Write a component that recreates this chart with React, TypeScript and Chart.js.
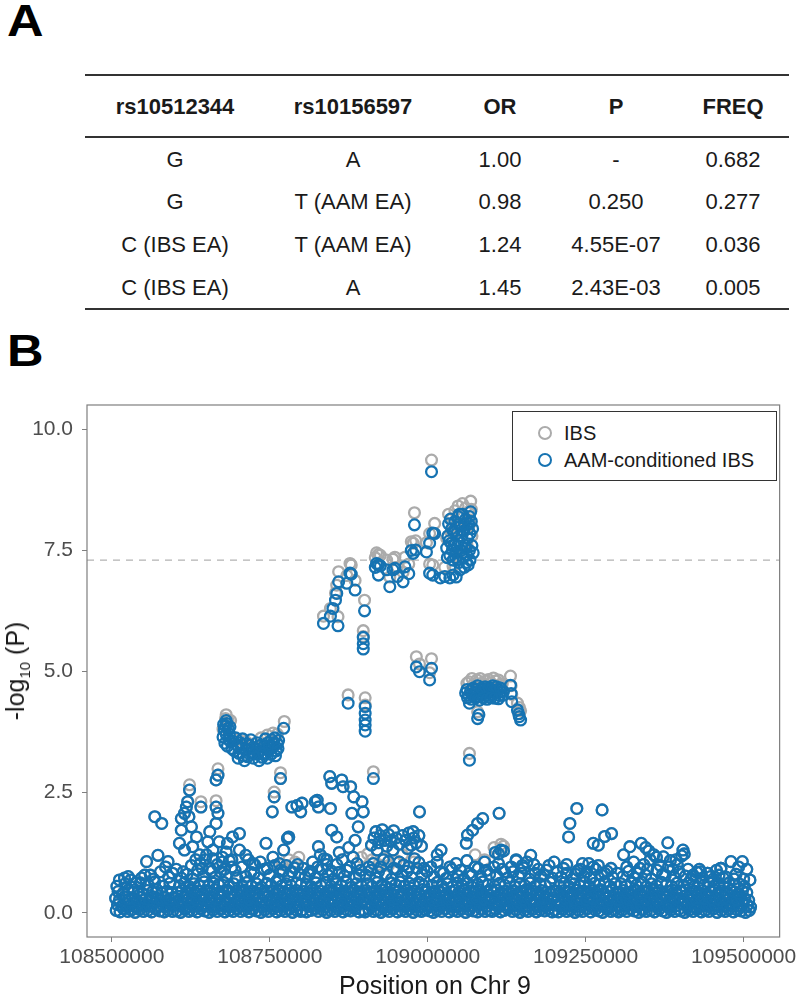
import React, { useEffect, useRef } from "react";
import { Chart, registerables } from "chart.js";
Chart.register(...registerables);

// ---------- Table (panel A) ----------
const tableHeader = ["rs10512344", "rs10156597", "OR", "P", "FREQ"];
const tableRows = [
  ["G", "A", "1.00", "-", "0.682"],
  ["G", "T (AAM EA)", "0.98", "0.250", "0.277"],
  ["C (IBS EA)", "T (AAM EA)", "1.24", "4.55E-07", "0.036"],
  ["C (IBS EA)", "A", "1.45", "2.43E-03", "0.005"],
];

// ---------- Scatter (panel B) ----------
// positions stored as kb offset from START_KB, pairs [kbOffset, -log10P, ...]
const START_KB = 108500;
const X_TICKS = [108500000, 108750000, 109000000, 109250000, 109500000];
const Y_TICKS = [0, 2.5, 5, 7.5, 10];
const THRESHOLD = 7.3;

const band1 = [7,.05,13,.02,19,.08,25,.03,31,.06,37,.01,44,.07,50,.03,57,.05,63,.02,70,.08,76,.04,83,.02,89,.06,96,.03,
  9,.17,16,.14,22,.19,29,.15,35,.2,41,.13,48,.18,54,.16,60,.14,67,.2,73,.15,80,.18,86,.13,93,.19,99,.16,
  6,.3,12,.27,20,.33,27,.28,33,.31,40,.26,46,.32,53,.29,59,.27,65,.33,72,.3,78,.26,85,.31,91,.28,98,.32,
  10,.44,18,.41,26,.47,34,.42,42,.45,49,.4,56,.46,64,.43,71,.48,79,.41,87,.45,95,.42,
  8,.55,21,.6,32,.53,45,.62,58,.57,68,.64,81,.55,92,.61,
  26,.75,30,.68,47,.72,61,.78,77,.85,85,.95,96,.82];
const band2 = [103,.04,109,.01,116,.07,122,.03,128,.05,135,.02,141,.08,147,.04,154,.01,160,.06,167,.03,173,.07,179,.02,186,.05,192,.03,198,.08,
  106,.16,112,.2,119,.13,125,.18,132,.15,138,.19,144,.14,151,.17,157,.2,163,.13,170,.18,176,.15,183,.19,189,.14,195,.17,
  101,.29,108,.26,114,.32,121,.28,127,.31,134,.27,140,.33,146,.29,153,.26,159,.31,166,.28,172,.33,179,.27,185,.3,192,.32,199,.26,
  104,.42,111,.46,118,.41,124,.47,131,.43,137,.45,144,.4,150,.46,157,.42,163,.48,170,.41,176,.44,183,.47,190,.42,197,.45,
  107,.56,115,.62,123,.54,130,.6,138,.57,146,.64,153,.55,161,.61,169,.58,177,.63,185,.54,193,.6,
  110,.72,119,.8,128,.7,136,.88,145,.76,155,.92,164,.74,172,.85,181,.78,190,.95,198,.72,140,1.02,160,1.12,175,1.05];
const band3 = [204,.03,210,.06,217,.02,223,.07,229,.04,236,.01,242,.06,248,.03,255,.08,261,.02,267,.05,274,.03,280,.07,286,.01,293,.05,299,.03,
  201,.15,207,.19,214,.14,220,.18,226,.16,233,.2,239,.13,245,.17,252,.15,258,.19,264,.14,271,.18,277,.16,283,.2,290,.13,296,.17,
  205,.28,211,.32,218,.27,224,.31,231,.29,237,.26,243,.33,250,.28,256,.3,262,.27,269,.32,275,.29,281,.26,288,.31,294,.28,
  203,.43,209,.47,216,.41,222,.45,228,.42,235,.48,241,.4,247,.44,254,.46,260,.41,266,.45,273,.43,279,.47,286,.42,292,.46,298,.4,
  206,.57,214,.63,221,.55,229,.6,237,.53,245,.61,252,.57,260,.64,268,.55,276,.6,284,.56,292,.62,299,.58,
  212,.75,220,.84,232,.72,241,.9,250,.78,263,.7,271,.86,280,.76,289,.93,297,.8,226,1.0,258,.98];
const band4 = [302,.06,308,.02,315,.05,321,.08,327,.03,334,.06,340,.01,346,.05,353,.03,359,.07,366,.02,372,.06,378,.04,385,.08,391,.02,397,.05,
  305,.17,311,.14,318,.2,324,.15,330,.18,337,.13,343,.19,349,.16,356,.14,362,.2,368,.15,375,.18,381,.13,388,.17,394,.2,
  301,.3,307,.27,314,.33,320,.28,327,.31,333,.26,339,.32,346,.29,352,.27,358,.33,365,.28,371,.31,378,.26,384,.32,391,.29,397,.27,
  304,.44,311,.41,317,.47,324,.42,330,.45,337,.4,343,.46,350,.43,356,.48,363,.41,369,.45,376,.42,382,.47,389,.44,395,.4,
  308,.58,316,.54,323,.62,331,.56,339,.63,347,.55,355,.6,363,.57,371,.64,379,.53,387,.6,395,.56,
  306,.74,314,.86,322,.72,333,.9,342,.78,351,.7,360,.84,368,.76,377,.95,386,.73,394,.88,318,1.05,340,1.0,365,1.1,388,1.02];
const band5 = [401,.02,407,.07,414,.03,420,.05,426,.01,433,.06,439,.03,445,.08,452,.02,458,.05,465,.03,471,.07,477,.01,484,.05,490,.03,496,.06,
  404,.19,410,.14,417,.17,423,.2,429,.15,436,.13,442,.18,448,.16,455,.2,461,.14,468,.17,474,.15,480,.19,487,.13,493,.18,499,.15,
  400,.27,406,.31,413,.28,419,.33,425,.26,432,.3,438,.32,444,.27,451,.29,457,.33,464,.26,470,.31,476,.28,483,.32,489,.27,496,.3,
  403,.46,409,.42,416,.45,422,.4,428,.47,435,.43,441,.41,447,.46,454,.44,460,.4,467,.47,473,.42,479,.45,486,.41,492,.48,498,.43,
  405,.6,412,.55,420,.63,427,.57,434,.54,442,.62,449,.58,456,.64,463,.55,471,.61,478,.57,486,.63,494,.56,
  402,.78,410,.88,418,.72,426,.95,434,.8,443,.7,451,.9,459,.76,467,.86,475,.73,483,.92,491,.79,499,.86,414,1.02,438,1.06,462,.99,486,1.04];
const band6 = [503,.04,509,.01,515,.06,522,.03,528,.08,534,.02,541,.05,547,.03,553,.07,560,.01,566,.06,572,.04,579,.02,585,.07,591,.03,598,.05,
  506,.15,512,.19,519,.14,525,.18,531,.16,538,.2,544,.13,550,.17,557,.15,563,.19,569,.14,576,.18,582,.16,588,.2,595,.14,
  501,.32,508,.27,514,.3,521,.26,527,.33,533,.28,540,.31,546,.27,552,.32,559,.29,565,.26,571,.31,578,.28,584,.33,590,.27,597,.3,
  505,.41,511,.45,518,.43,524,.48,530,.4,537,.44,543,.46,549,.42,556,.47,562,.41,568,.45,575,.43,581,.48,587,.4,594,.44,600,.46,
  507,.57,515,.63,523,.55,531,.6,539,.54,547,.62,555,.56,563,.61,571,.53,579,.59,587,.64,595,.57,
  510,.74,520,.85,529,.71,538,.9,548,.77,557,.7,566,.82,575,.95,584,.75,593,.88,545,1.02,590,1.05];
const band7 = [602,.03,608,.07,615,.02,621,.05,627,.08,634,.03,640,.06,646,.01,653,.05,659,.03,666,.07,672,.02,678,.06,685,.04,691,.08,697,.02,
  605,.18,611,.14,617,.2,624,.16,630,.13,637,.19,643,.15,649,.18,656,.14,662,.2,668,.16,675,.13,681,.19,688,.15,694,.17,
  601,.28,607,.33,614,.27,620,.3,626,.26,633,.32,639,.29,645,.33,652,.27,658,.31,664,.28,671,.26,677,.32,684,.29,690,.31,696,.27,
  604,.43,610,.47,617,.41,623,.45,629,.42,636,.46,642,.4,648,.44,655,.47,661,.42,667,.45,674,.41,680,.46,687,.43,693,.4,699,.45,
  606,.55,614,.61,622,.57,630,.63,638,.54,646,.6,654,.56,662,.62,670,.55,678,.6,686,.57,694,.63,
  609,.78,618,.9,626,.72,635,.85,644,.75,652,.93,661,.7,670,.82,679,.76,688,.88,697,.72,612,1.02,640,1.08,668,1.0];
const band8 = [701,.05,707,.02,714,.07,720,.03,726,.06,733,.01,739,.05,745,.03,752,.08,758,.02,765,.06,771,.04,777,.01,784,.07,790,.03,796,.05,
  704,.16,710,.2,717,.14,723,.18,729,.15,736,.19,742,.13,748,.17,755,.2,761,.14,767,.18,774,.15,780,.19,787,.13,793,.17,799,.15,
  700,.31,706,.27,713,.33,719,.28,725,.3,732,.26,738,.32,744,.29,751,.27,757,.31,763,.28,770,.33,776,.27,783,.3,789,.26,795,.32,
  703,.45,709,.41,716,.46,722,.43,728,.4,735,.47,741,.42,747,.45,754,.41,760,.46,766,.43,773,.48,779,.41,786,.44,792,.47,798,.42,
  708,.56,716,.62,724,.54,732,.6,740,.57,748,.63,756,.55,764,.61,772,.58,780,.64,788,.55,796,.6,
  711,.74,720,.82,729,.7,738,.88,747,.76,757,.72,766,.9,775,.78,784,.86,793,.73,745,1.02,770,.98];
const band9 = [802,.02,808,.06,815,.03,821,.08,827,.04,834,.01,840,.06,846,.03,853,.05,859,.02,866,.07,872,.04,878,.01,885,.06,891,.03,897,.07,
  805,.14,811,.18,818,.16,824,.2,830,.13,837,.17,843,.19,849,.15,856,.18,862,.14,868,.2,875,.16,881,.13,888,.19,894,.15,
  801,.27,807,.32,814,.29,820,.26,826,.31,833,.28,839,.33,845,.27,852,.3,858,.32,864,.26,871,.29,877,.33,884,.28,890,.31,896,.26,
  804,.42,810,.46,817,.4,823,.44,829,.47,836,.41,842,.45,848,.43,855,.48,861,.42,867,.46,874,.4,880,.44,887,.47,893,.41,899,.45,
  806,.6,814,.55,822,.62,830,.57,838,.64,846,.54,854,.6,862,.56,870,.63,878,.58,886,.55,894,.61,
  809,.75,818,.86,827,.72,836,.92,845,.78,854,.7,863,.88,872,.8,881,.95,890,.74,898,.85,826,1.05,852,1.1,858,1.2,884,1.08];
const band10 = [901,.04,907,.01,914,.06,920,.03,926,.07,933,.02,939,.05,945,.03,952,.08,958,.01,965,.05,971,.03,977,.07,984,.02,990,.06,996,.04,1003,.01,1009,.05,
  904,.18,910,.15,917,.19,923,.13,929,.17,936,.2,942,.14,948,.18,955,.16,961,.13,967,.19,974,.15,980,.17,987,.2,993,.14,999,.18,1006,.16,1011,.12,
  900,.3,906,.27,913,.32,919,.28,925,.26,932,.31,938,.29,944,.33,951,.27,957,.3,963,.26,970,.32,976,.28,983,.31,989,.27,995,.33,1002,.29,1008,.26,
  903,.43,909,.47,916,.41,922,.45,928,.42,935,.46,941,.4,947,.44,954,.47,960,.42,966,.45,973,.41,979,.46,986,.43,992,.4,998,.45,1005,.42,
  905,.56,913,.62,921,.54,929,.6,937,.57,945,.63,953,.55,961,.6,969,.54,977,.62,985,.57,993,.6,1001,.55,
  908,.76,917,.7,926,.84,935,.72,943,.82,952,.7,961,.78,964,.92,972,.74,988,.8,992,.95];
const bandUpper = [12,.68,20,.72,38,.62,52,.78,66,.7,90,.74,102,.9,113,.85,126,.98,133,1.1,143,.92,150,1.2,158,.86,167,1.0,178,.9,
  186,1.08,195,.88,206,.95,216,1.1,225,.82,235,1.05,246,.92,255,1.15,267,.88,276,.98,285,.85,294,1.0,303,.92,312,.8,326,.95,
  336,1.12,348,.86,356,1.0,372,.88,382,1.15,392,.78,407,.95,422,.85,430,1.1,446,.92,455,1.05,470,.95,479,1.12,494,.92,505,.95,
  515,1.05,525,.82,535,.95,552,.88,562,1.08,570,.78,580,.92,598,.8,605,.95,622,.85,632,.95,648,.82,657,1.05,675,.9,684,.78,
  692,.98,705,.85,715,.92,734,.8,742,.9,752,.85,762,.95,780,.82,790,.92,800,.82,815,.95,832,.82,842,1.0,848,.9,868,.98,
  876,.78,888,.9,895,1.0,912,.9,920,.78,932,.85,948,.75,957,.88,968,.72,985,.7,1000,.7,1010,.68];

const midShared = [55,1.06,73,1.19,89,1.06,68,1.99,79,1.85,110,1.95,118,2.19,120,2.3,123,2.54,115,2.06,122,1.99,126,1.78,110,1.71,107,1.44,115,1.3,
  134,1.57,139,1.2,128,1.37,141,2.19,165,2.19,168,2.06,165,1.85,155,1.68,152,1.47,170,1.47,165,2.75,168,2.85,183,1.44,181,1.26,191,1.57,
  202,1.64,202,1.3,212,1.19,223,1.02,190,1.1,175,1.15,160,1.3,148,1.1,257,2.4,254,2.09,267,2.78,244,1.44,278,1.54,272,1.3,285,2.19,
  299,2.09,293,2.22,265,1.02,280,1.57,301,2.27,322,2.3,327,2.19,325,2.33,327,1.37,346,2.16,348,1.71,356,1.57,345,2.82,348,2.68,364,2.75,
  366,2.61,378,2.61,383,2.4,396,2.3,398,2.09,380,2.06,390,1.78,330,1.2,340,1.1,360,1.25,375,1.35,385,1.5,
  411,1.4,415,1.55,418,1.68,422,1.45,425,1.6,428,1.72,432,1.5,435,1.38,438,1.62,442,1.48,446,1.7,450,1.55,455,1.42,460,1.6,465,1.5,
  470,1.65,474,1.4,478,1.55,482,1.45,486,1.6,490,1.38,420,1.3,445,1.3,468,1.33,
  487,2.09,477,1.68,521,1.3,515,1.2,561,1.44,563,1.61,571,1.71,579,1.85,587,1.95,613,2.06,616,1.3,607,1.25,612,1.22,620,1.28,663,1.19,
  736,2.16,725,1.85,723,1.57,776,2.13,762,1.44,791,1.64,780,1.58,770,1.4,820,1.37,838,1.44,845,1.35,880,1.45,873,1.16,904,1.3,906,1.22,
  902,1.18,998,1.06,980,1.06,964,.92,943,.82,755,1.02,700,1.05,720,1.0,640,1.1,650,.98,810,1.2,850,1.28,862,1.15,893,1.1,930,.9,1005,.9];

const ibsExtra = [270,1.0,280,1.1,290,1.05,296,1.15,395,1.15,405,1.22,412,1.1,422,1.0,430,1.12,438,.98,450,1.08,460,1.2,478,1.05,
  165,2.32,168,2.98,141,2.3,267,2.9,414,2.92,257,2.5,123,2.65,575,1.2,590,1.1,605,1.35,620,1.38,616,1.42];

const aamPeak = [335,5.99,346,6.14,358,5.94,354,6.47,356,6.61,359,6.85,350,6.3,372,6.82,377,7.03,379,7.01,385,6.68,400,6.25,398,5.7,398,5.57,398,5.46,
  417,7.15,419,7.23,422,7.2,425,7.18,422,6.99,435,7.1,440,6.75,445,7.1,448,7.13,452,6.96,461,6.85,464,7.16,470,7.02,474,7.5,477,7.44,
  481,7.51,479,8.03,498,7.47,503,7.65,511,7.85,508,7.86,506,9.13,503,7.03,508,6.99,520,6.93,527,6.96,535,6.93,540,6.99,545,6.95,
  530,7.55,532,7.8,533,8.05,535,7.4,537,7.65,538,7.95,540,7.3,542,7.6,543,8.1,545,7.45,546,7.85,548,8.2,549,7.25,550,7.7,552,8.0,
  553,7.5,555,8.25,556,7.35,557,7.9,559,7.6,560,8.15,562,7.4,563,7.75,565,8.05,566,7.5,567,7.85,568,8.3,564,7.2,558,7.15,551,7.1,570,7.6,569,8.1,
  531,7.35,534,7.7,536,8.15,539,7.5,541,7.9,544,7.35,547,7.6,550,8.25,554,7.8,558,8.05,561,7.55,564,7.95,567,7.3,571,7.95,572,7.45,566,8.2,561,7.25,
  482,5.09,487,4.99,506,5.06,503,4.82,
  560,4.55,563,4.45,566,4.34,568,4.6,571,4.5,574,4.55,577,4.62,580,4.48,583,4.58,586,4.52,589,4.63,592,4.5,595,4.57,598,4.6,601,4.52,
  604,4.6,607,4.55,610,4.62,613,4.5,616,4.57,579,4.02,581,4.1,566,3.16,631,4.71,632,4.54,633,4.37,642,4.2,645,4.06,647,3.99,644,4.12,
  562,4.62,565,4.5,569,4.42,572,4.65,576,4.45,579,4.7,582,4.4,585,4.65,588,4.45,591,4.68,594,4.42,597,4.66,600,4.45,603,4.7,606,4.44,
  609,4.68,612,4.43,615,4.65,618,4.5,620,4.58,
  374,4.34,401,4.27,401,4.13,401,3.99,401,3.89,401,3.76,414,2.78,
  176,3.64,178,3.78,180,3.86,182,3.92,184,3.82,186,3.7,179,3.51,183,3.45,188,3.55,190,3.4,194,3.35,198,3.48,201,3.3,205,3.42,208,3.25,
  212,3.38,215,3.23,218,3.47,221,3.32,224,3.2,228,3.4,231,3.28,235,3.35,238,3.22,241,3.45,244,3.3,247,3.52,250,3.38,253,3.58,255,3.44,
  258,3.62,260,3.35,262,3.5,264,3.57,272,3.82,
  192,3.55,196,3.62,200,3.2,203,3.52,207,3.6,210,3.15,213,3.5,217,3.3,220,3.58,223,3.42,226,3.3,230,3.52,233,3.15,236,3.47,240,3.3,
  243,3.6,246,3.2,249,3.45,252,3.28,256,3.52,259,3.25,263,3.4,181,3.7,185,3.58,187,3.85,177,3.9,181,3.98];

const ibsPeak = [335,6.14,346,6.3,358,6.13,354,6.62,356,6.78,359,7.06,372,6.98,377,7.23,379,7.2,385,6.88,400,6.47,398,5.84,398,5.72,
  417,7.35,419,7.45,422,7.42,425,7.4,435,7.3,440,6.95,445,7.32,448,7.36,452,7.15,461,7.05,464,7.36,470,7.22,474,7.68,477,7.65,481,7.7,
  479,8.28,498,7.66,503,7.85,511,8.06,506,9.37,503,7.22,508,7.2,527,7.15,540,7.18,
  530,7.75,533,8.25,537,7.88,538,8.15,542,7.82,543,8.32,546,8.05,548,8.42,550,7.92,552,8.2,555,8.47,557,8.1,560,8.38,563,7.96,565,8.28,
  567,8.05,568,8.52,570,7.8,569,8.35,556,7.55,549,7.45,562,7.62,
  482,5.3,487,5.15,506,5.26,503,4.97,
  565,4.78,572,4.72,578,4.82,585,4.75,592,4.8,600,4.76,608,4.8,614,4.72,579,4.16,566,3.3,631,4.9,632,4.7,633,4.52,645,4.25,647,4.18,642,4.34,
  562,4.75,570,4.85,583,4.85,596,4.83,604,4.86,612,4.82,618,4.74,
  374,4.51,401,4.45,401,4.3,
  176,3.8,180,4.02,184,3.98,200,3.58,212,3.55,225,3.5,236,3.62,246,3.68,255,3.72,262,3.7,273,3.96,181,4.1,188,3.98];

const bands = [band1, band2, band3, band4, band5, band6, band7, band8, band9, band10, bandUpper];

function toPoints(pairs: number[]) {
  const out: { x: number; y: number }[] = [];
  for (let i = 0; i + 1 < pairs.length; i += 2) {
    out.push({ x: (START_KB + pairs[i]) * 1000, y: pairs[i + 1] });
  }
  return out;
}

const BLUE = "#1673b2";
const GRAY = "#ababab";
const FONT = "'Liberation Sans', Arial, Helvetica, sans-serif";

const panelPlugin = {
  id: "panelDecor",
  beforeDatasetsDraw(chart: any) {
    const { ctx, chartArea, scales } = chart;
    const y = scales.y.getPixelForValue(THRESHOLD);
    ctx.save();
    ctx.strokeStyle = "#b3b3b3";
    ctx.lineWidth = 1.3;
    ctx.setLineDash([7, 6]);
    ctx.beginPath();
    ctx.moveTo(chartArea.left, y);
    ctx.lineTo(chartArea.right, y);
    ctx.stroke();
    ctx.restore();
  },
  afterDraw(chart: any) {
    const { ctx, chartArea } = chart;
    ctx.save();
    ctx.strokeStyle = "#7f7f7f";
    ctx.lineWidth = 1.2;
    ctx.strokeRect(chartArea.left, chartArea.top, chartArea.right - chartArea.left, chartArea.bottom - chartArea.top);
    ctx.restore();
  },
};

function ScatterPanel() {
  const ref = useRef<HTMLCanvasElement | null>(null);
  useEffect(() => {
    if (!ref.current) return;
    const bandPairs = ([] as number[]).concat(...bands);
    const aamData = toPoints(bandPairs.concat(midShared, aamPeak));
    const ibsData = toPoints(bandPairs.concat(midShared, ibsExtra, ibsPeak));
    const chart = new Chart(ref.current, {
      type: "scatter",
      data: {
        datasets: [
          { label: "AAM-conditioned IBS", data: aamData, borderColor: BLUE, backgroundColor: "rgba(0,0,0,0)", pointRadius: 5.4, borderWidth: 2.3, pointStyle: "circle" },
          { label: "IBS", data: ibsData, borderColor: GRAY, backgroundColor: "rgba(0,0,0,0)", pointRadius: 5.4, borderWidth: 2.3, pointStyle: "circle" },
        ],
      },
      options: {
        responsive: false,
        animation: false,
        events: [],
        layout: { padding: { left: 0, right: 16, top: 25, bottom: 0 } },
        plugins: { legend: { display: false }, tooltip: { enabled: false } },
        scales: {
          x: {
            type: "linear",
            min: 108460700,
            max: 109557000,
            afterFit: (s: any) => { s.height = 63; },
            afterBuildTicks: (s: any) => { s.ticks = X_TICKS.map((v) => ({ value: v })); },
            ticks: { callback: (v: any) => String(v), font: { family: FONT, size: 21 }, color: "#4d4d4d", padding: 3, maxRotation: 0, autoSkip: false },
            grid: { drawOnChartArea: false, drawTicks: true, tickLength: 5, color: "#7f7f7f", tickColor: "#7f7f7f" },
            border: { display: false },
          },
          y: {
            type: "linear",
            min: -0.5,
            max: 10.51,
            afterFit: (s: any) => { s.width = 87; },
            afterBuildTicks: (s: any) => { s.ticks = Y_TICKS.map((v) => ({ value: v })); },
            ticks: { callback: (v: any) => Number(v).toFixed(1), font: { family: FONT, size: 21 }, color: "#4d4d4d", padding: 9 },
            grid: { drawOnChartArea: false, drawTicks: true, tickLength: 5, color: "#7f7f7f", tickColor: "#7f7f7f" },
            border: { display: false },
          },
        },
      },
      plugins: [panelPlugin],
    });
    return () => chart.destroy();
  }, []);
  return <canvas ref={ref} width={800} height={620} style={{ position: "absolute", left: 0, top: 380, width: 800, height: 620 }} />;
}

const colCenters = [175, 353, 500, 616, 733];
const rowCenters = [160, 202, 245, 288];

function Cell({ text, cx, cy, bold }: { text: string; cx: number; cy: number; bold?: boolean }) {
  return (
    <div style={{ position: "absolute", left: cx - 100, top: cy - 13, width: 200, height: 26, lineHeight: "26px", textAlign: "center", fontSize: 22, fontWeight: bold ? 700 : 400, color: "#1a1a1a", whiteSpace: "nowrap" }}>
      {text}
    </div>
  );
}

export default function App() {
  useEffect(() => {
    document.body.style.margin = "0";
  }, []);
  const line = (top: number) => (
    <div style={{ position: "absolute", left: 85, top, width: 704, height: 2, background: "#333" }} />
  );
  const panelLabel = (text: string, top: number) => (
    <div style={{ position: "absolute", left: 7, top, fontSize: 44, lineHeight: "46px", fontWeight: 900, color: "#000", transform: "scaleX(1.15)", transformOrigin: "left center" }}>{text}</div>
  );
  return (
    <div style={{ position: "absolute", left: 0, top: 0, width: 800, height: 1000, background: "#fff", fontFamily: FONT, overflow: "hidden" }}>
      {panelLabel("A", -2)}
      {line(74)}
      {line(136)}
      {line(308)}
      {tableHeader.map((h, i) => <Cell key={"h" + i} text={h} cx={colCenters[i]} cy={107} bold />)}
      {tableRows.map((r, ri) => r.map((c, ci) => <Cell key={ri + "-" + ci} text={c} cx={colCenters[ci]} cy={rowCenters[ri]} />))}
      {panelLabel("B", 328)}
      <ScatterPanel />
      <div style={{ position: "absolute", left: 512, top: 411, width: 263, height: 68, border: "1px solid #333", background: "#fff" }}>
        {[{ label: "IBS", color: GRAY, cy: 21 }, { label: "AAM-conditioned IBS", color: BLUE, cy: 48 }].map((e) => (
          <div key={e.label}>
            <div style={{ position: "absolute", left: 25, top: e.cy - 7, width: 10, height: 10, borderRadius: "50%", border: `2px solid ${e.color}` }} />
            <div style={{ position: "absolute", left: 51, top: e.cy - 13, height: 26, lineHeight: "26px", fontSize: 20, color: "#1a1a1a", whiteSpace: "nowrap" }}>{e.label}</div>
          </div>
        ))}
      </div>
      <div style={{ position: "absolute", left: 20, top: 671, transform: "translate(-50%, -50%) rotate(-90deg)", fontSize: 25, color: "#1a1a1a", whiteSpace: "nowrap", lineHeight: "30px" }}>
        -log<sub style={{ fontSize: 15 }}>10</sub> (P)
      </div>
      <div style={{ position: "absolute", left: 0, top: 970, width: 870, textAlign: "center", fontSize: 25, lineHeight: "30px", color: "#1a1a1a", whiteSpace: "nowrap" }}>
        Position on Chr 9
      </div>
    </div>
  );
}
